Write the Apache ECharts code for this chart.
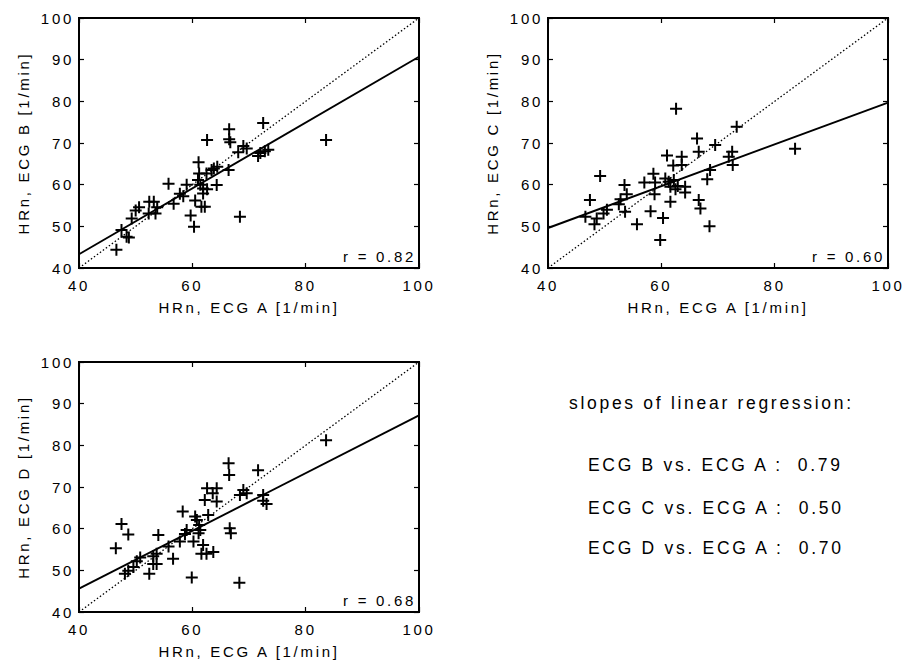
<!DOCTYPE html>
<html><head><meta charset="utf-8">
<script src="https://cdn.jsdelivr.net/npm/echarts@6/dist/echarts.min.js"></script>
<style>
html,body{margin:0;padding:0;background:#fff;}
#c{width:907px;height:663px;}
#c text{letter-spacing:2.7px !important;}
</style></head><body><div id="c"></div>
<script>
// ---- data ----
const xTickInterval = 20;
const yTickInterval = 10;
const axisMin = 40, axisMax = 100;
const xAxisTitle = 'HRn, ECG A [1/min]';
const yAxisTitles = ['HRn, ECG B [1/min]', 'HRn, ECG C [1/min]', 'HRn, ECG D [1/min]'];
const rLabels = ['r = 0.82', 'r = 0.60', 'r = 0.68'];
const slopeTitle = 'slopes of linear regression:';
const slopeNames = ['ECG B vs. ECG A :', 'ECG C vs. ECG A :', 'ECG D vs. ECG A :'];
const slopeValues = ['0.79', '0.50', '0.70'];

const pointsB = [[46.6,44.4],[47.5,49.1],[48.4,47.5],[48.8,47.3],[49.3,51.9],[50.0,53.8],[50.6,54.6],[52.4,55.9],[53.2,55.9],[52.3,53.1],[53.5,53.1],[53.8,54.6],[55.8,60.2],[56.7,55.4],[57.8,57.8],[58.4,57.2],[59.0,60.0],[59.7,52.6],[60.3,49.9],[60.5,56.2],[61.1,65.4],[61.2,62.7],[61.0,61.1],[61.4,60.0],[61.6,54.7],[62.2,54.7],[61.9,57.9],[61.9,59.1],[62.5,62.7],[62.6,70.7],[62.6,58.9],[63.4,63.5],[63.8,63.9],[64.3,59.9],[64.4,64.3],[66.4,63.5],[66.5,73.3],[66.5,70.9],[66.7,70.2],[68.4,52.3],[68.1,67.8],[69.0,69.3],[69.6,68.7],[71.6,66.9],[72.5,74.8],[72.0,67.6],[72.8,68.0],[73.4,68.4],[83.6,70.7]];

const pointsC = [[46.6,52.3],[47.4,56.3],[49.2,62.1],[48.2,50.5],[48.6,51.9],[49.8,53.1],[50.4,54.0],[52.5,55.3],[52.8,56.5],[53.5,59.9],[53.6,53.5],[53.9,57.7],[55.7,50.5],[57.0,60.5],[58.1,53.6],[58.6,62.6],[58.8,57.7],[58.9,60.5],[59.8,46.7],[60.3,52.0],[60.7,61.5],[61.0,67.0],[61.3,60.7],[61.6,59.5],[61.6,55.9],[62.1,64.6],[62.2,61.1],[62.5,58.9],[62.6,78.2],[62.9,59.7],[63.6,66.7],[63.6,64.7],[64.2,59.5],[64.2,58.1],[66.3,71.1],[66.6,67.9],[66.6,56.3],[66.9,54.3],[68.1,61.3],[68.6,63.5],[68.5,50.0],[69.5,69.5],[71.9,66.7],[72.5,67.9],[72.6,64.7],[73.3,73.9],[83.6,68.6]];

const pointsD = [[46.5,55.3],[47.5,61.1],[48.7,58.6],[48.1,49.2],[48.7,49.9],[49.6,50.8],[50.2,52.2],[50.8,53.1],[52.4,49.2],[53.1,53.4],[53.1,51.5],[53.7,54.0],[54.0,58.5],[53.7,51.5],[55.8,55.7],[56.6,52.8],[57.8,56.9],[58.3,64.1],[58.7,58.7],[59.0,59.7],[59.9,48.3],[60.2,56.9],[60.5,62.9],[60.8,62.1],[61.1,58.9],[61.2,60.9],[61.4,59.7],[61.6,54.0],[61.9,56.1],[62.5,54.0],[62.2,66.9],[62.8,63.3],[62.6,69.7],[63.6,68.5],[64.3,69.7],[64.3,66.5],[63.7,54.4],[66.4,75.7],[66.5,72.9],[66.6,60.1],[66.8,58.9],[68.3,47.0],[68.4,68.1],[69.0,69.3],[69.6,68.5],[71.6,74.0],[72.5,68.1],[72.5,66.7],[73.1,65.9],[83.6,81.2]];

const identityLine = [[40,40],[100,100]];
const regLineB = [[40,43.3],[100,90.7]];
const regLineC = [[40,49.6],[100,79.7]];
const regLineD = [[40,45.6],[100,87.2]];

// ---- chart ----
const FONT = '"Liberation Sans", Arial, sans-serif';
const panels = [
  {pts: pointsB, reg: regLineB, left: 79, top: 18},
  {pts: pointsC, reg: regLineC, left: 548, top: 18},
  {pts: pointsD, reg: regLineD, left: 79, top: 362}
];
const W = 340, H = 250;
const plusPath = 'path://M50,0H70V50H120V70H70V120H50V70H0V50H50Z';

const grid = [], xAxis = [], yAxis = [], series = [], graphic = [];
panels.forEach((p, i) => {
  grid.push({left: p.left, top: p.top, width: W, height: H, show: true,
    borderColor: '#000', borderWidth: 2, backgroundColor: 'transparent'});
  const tick = {show: true, inside: true, length: 5, lineStyle: {color: '#000', width: 1.2}};
  const lbl = {color: '#000', fontSize: 15, fontFamily: FONT};
  xAxis.push({gridIndex: i, type: 'value', min: axisMin, max: axisMax, interval: xTickInterval,
    position: 'bottom', axisLine: {show: false}, axisTick: tick, splitLine: {show: false},
    axisLabel: Object.assign({margin: 10}, lbl),
    name: xAxisTitle, nameLocation: 'middle', nameGap: 32, nameTextStyle: lbl});
  xAxis.push({gridIndex: i, type: 'value', min: axisMin, max: axisMax, interval: xTickInterval,
    position: 'top', axisLine: {show: false}, axisTick: tick, splitLine: {show: false},
    axisLabel: {show: false}});
  yAxis.push({gridIndex: i, type: 'value', min: axisMin, max: axisMax, interval: yTickInterval,
    position: 'left', axisLine: {show: false}, axisTick: tick, splitLine: {show: false},
    axisLabel: Object.assign({margin: 5}, lbl),
    name: yAxisTitles[i], nameLocation: 'middle', nameGap: 48, nameTextStyle: lbl});
  yAxis.push({gridIndex: i, type: 'value', min: axisMin, max: axisMax, interval: yTickInterval,
    position: 'right', axisLine: {show: false}, axisTick: tick, splitLine: {show: false},
    axisLabel: {show: false}});
  const xi = i * 2, yi = i * 2;
  series.push({type: 'line', xAxisIndex: xi, yAxisIndex: yi, data: identityLine, symbol: 'none',
    lineStyle: {color: '#000', width: 1.3, type: [1.5, 2.2]}, silent: true, z: 2});
  series.push({type: 'line', xAxisIndex: xi, yAxisIndex: yi, data: p.reg, symbol: 'none',
    lineStyle: {color: '#000', width: 1.9}, silent: true, z: 3});
  series.push({type: 'scatter', xAxisIndex: xi, yAxisIndex: yi, data: p.pts, symbol: plusPath,
    symbolSize: 12, itemStyle: {color: '#000', opacity: 1}, silent: true, z: 4});
  graphic.push({type: 'text', x: p.left + W - 3, y: p.top + H - 12,
    style: {text: rLabels[i], fill: '#000', font: '15px ' + FONT, align: 'right', verticalAlign: 'middle'}});
});

graphic.push({type: 'text', x: 569, y: 403,
  style: {text: slopeTitle, fill: '#000', font: '17.5px ' + FONT, align: 'left', verticalAlign: 'middle'}});
[465, 508, 548].forEach((t, k) => {
  graphic.push({type: 'text', x: 588, y: t,
    style: {text: slopeNames[k] + '  ' + slopeValues[k], fill: '#000', font: '17.5px ' + FONT, align: 'left', verticalAlign: 'middle'}});
});

const chart = echarts.init(document.getElementById('c'), null, {renderer: 'svg'});
chart.setOption({animation: false, backgroundColor: '#fff', grid, xAxis, yAxis, series, graphic});
</script></body></html>
